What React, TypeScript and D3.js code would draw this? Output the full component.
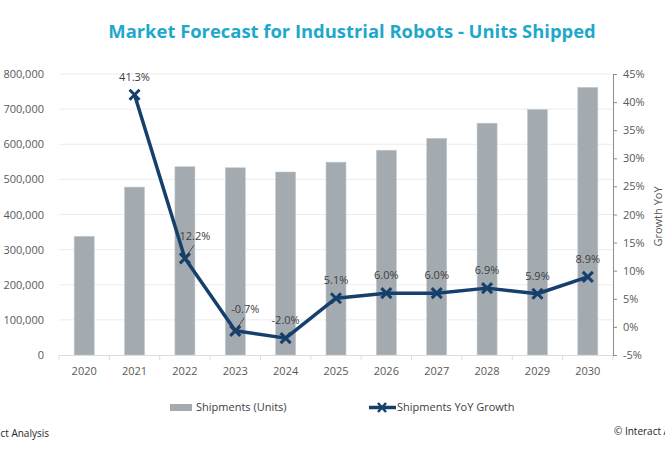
import React, { useEffect, useRef } from "react";
import * as d3 from "d3";

const years = ["2020", "2021", "2022", "2023", "2024", "2025", "2026", "2027", "2028", "2029", "2030"];
const shipments = [338000, 478000, 536000, 533000, 521000, 549000, 583000, 617000, 660000, 699000, 762000];
const growth = [null, 41.3, 12.2, -0.7, -2.0, 5.1, 6.0, 6.0, 6.9, 5.9, 8.9];
const unitTicks = [0, 100000, 200000, 300000, 400000, 500000, 600000, 700000, 800000];
const growthTicks = [-5, 0, 5, 10, 15, 20, 25, 30, 35, 40, 45];
// labels pushed up-right with a small leader line
const leaderYears = ["2022", "2023"];

const W = 665;
const H = 450;
const FONT = "'Open Sans', 'Noto Sans', sans-serif";
const BAR = "#a3abb0";
const LINE = "#173f6c";
const TEXT = "#595959";

const App = () => {
  const svgRef = useRef<SVGSVGElement>(null);

  useEffect(() => {
    const svg = d3.select(svgRef.current);
    svg.selectAll("*").remove();

    const m = { left: 59, right: 613, top: 74, bottom: 355 };

    const x = d3.scaleBand().domain(years).range([m.left, m.right]).paddingInner(0).paddingOuter(0);
    const y = d3.scaleLinear().domain([0, 800000]).range([m.bottom, m.top]);
    const y2 = d3.scaleLinear().domain([-5, 45]).range([m.bottom, m.top]);
    const barW = 20;

    svg.append("rect").attr("width", W).attr("height", H).attr("fill", "#fff");

    // title
    svg.append("text")
      .attr("x", 352).attr("y", 38)
      .attr("text-anchor", "middle")
      .attr("font-family", FONT).attr("font-weight", 700).attr("font-size", 18.4)
      .attr("fill", "#1ea8cb")
      .text("Market Forecast for Industrial Robots - Units Shipped");

    // gridlines
    svg.append("g").selectAll("line")
      .data(unitTicks.filter(d => d > 0))
      .join("line")
      .attr("x1", m.left).attr("x2", m.right)
      .attr("y1", d => y(d)).attr("y2", d => y(d))
      .attr("stroke", "#ececec").attr("stroke-width", 1);

    // left axis labels
    svg.append("g").selectAll("text")
      .data(unitTicks)
      .join("text")
      .attr("x", 44).attr("y", d => y(d) + 4)
      .attr("text-anchor", "end")
      .attr("font-family", FONT).attr("font-size", 11).attr("fill", TEXT)
      .text(d => d3.format(",")(d));

    // bars
    svg.append("g").selectAll("rect")
      .data(shipments)
      .join("rect")
      .attr("x", (_, i) => x(years[i])! + x.bandwidth() / 2 - barW / 2)
      .attr("y", d => y(d))
      .attr("width", barW)
      .attr("height", d => y(0) - y(d))
      .attr("fill", BAR)
      .attr("stroke", "#c4cacd").attr("stroke-width", 0.6);

    // x axis
    const xa = svg.append("g");
    xa.append("line")
      .attr("x1", m.left).attr("x2", m.right)
      .attr("y1", m.bottom + 0.5).attr("y2", m.bottom + 0.5)
      .attr("stroke", "#dcdcdc");
    xa.selectAll("line.tick")
      .data(d3.range(years.length + 1))
      .join("line")
      .attr("class", "tick")
      .attr("x1", i => m.left + i * x.bandwidth()).attr("x2", i => m.left + i * x.bandwidth())
      .attr("y1", m.bottom).attr("y2", m.bottom + 5)
      .attr("stroke", "#dcdcdc");
    xa.selectAll("text")
      .data(years)
      .join("text")
      .attr("x", d => x(d)! + x.bandwidth() / 2)
      .attr("y", 375)
      .attr("text-anchor", "middle")
      .attr("font-family", FONT).attr("font-size", 11).attr("fill", TEXT)
      .text(d => d);

    // right axis
    const ra = svg.append("g");
    ra.append("line")
      .attr("x1", m.right + 0.5).attr("x2", m.right + 0.5)
      .attr("y1", m.top).attr("y2", m.bottom)
      .attr("stroke", "#8c8c8c");
    ra.selectAll("line.tick")
      .data(growthTicks)
      .join("line")
      .attr("class", "tick")
      .attr("x1", m.right).attr("x2", m.right + 4)
      .attr("y1", d => y2(d) + 0.5).attr("y2", d => y2(d) + 0.5)
      .attr("stroke", "#8c8c8c");
    ra.selectAll("text")
      .data(growthTicks)
      .join("text")
      .attr("x", 623).attr("y", d => y2(d) + 4)
      .attr("font-family", FONT).attr("font-size", 11).attr("fill", TEXT)
      .text(d => `${d}%`);
    svg.append("text")
      .attr("transform", `translate(662,${(m.top + m.bottom) / 2 + 2}) rotate(-90)`)
      .attr("text-anchor", "middle")
      .attr("font-family", FONT).attr("font-size", 11).attr("fill", TEXT)
      .text("Growth YoY");

    // growth line
    const pts = years
      .map((yr, i) => ({ yr, v: growth[i] }))
      .filter(d => d.v !== null) as { yr: string; v: number }[];
    const cx = (d: { yr: string }) => x(d.yr)! + x.bandwidth() / 2;

    svg.append("path")
      .datum(pts)
      .attr("fill", "none")
      .attr("stroke", LINE).attr("stroke-width", 3.5)
      .attr("stroke-linejoin", "round")
      .attr("d", d3.line<{ yr: string; v: number }>().x(cx).y(d => y2(d.v)));

    const mk = 5;
    svg.append("g").selectAll("path")
      .data(pts)
      .join("path")
      .attr("d", d => {
        const px = cx(d), py = y2(d.v);
        return `M${px - mk},${py - mk}L${px + mk},${py + mk}M${px - mk},${py + mk}L${px + mk},${py - mk}`;
      })
      .attr("stroke", LINE).attr("stroke-width", 3).attr("fill", "none");

    // data labels
    const lg = svg.append("g");
    pts.forEach(d => {
      const px = cx(d), py = y2(d.v);
      const lead = leaderYears.includes(d.yr);
      const lx = lead ? px + 10 : px;
      const ly = lead ? py - 18 : py - 14;
      if (lead) {
        lg.append("line")
          .attr("x1", px).attr("y1", py)
          .attr("x2", px + 9).attr("y2", py - 13)
          .attr("stroke", "#333").attr("stroke-width", 0.8);
      }
      lg.append("text")
        .attr("x", lx).attr("y", ly)
        .attr("text-anchor", "middle")
        .attr("font-family", FONT).attr("font-size", 11).attr("fill", "#404040")
        .text(`${d.v.toFixed(1)}%`);
    });

    // legend
    const leg = svg.append("g").attr("font-family", FONT).attr("font-size", 11).attr("fill", "#404040");
    leg.append("rect").attr("x", 170).attr("y", 404).attr("width", 22).attr("height", 7).attr("fill", BAR);
    leg.append("text").attr("x", 196).attr("y", 411).text("Shipments (Units)");
    leg.append("line")
      .attr("x1", 369).attr("x2", 396).attr("y1", 407.5).attr("y2", 407.5)
      .attr("stroke", LINE).attr("stroke-width", 3.5);
    leg.append("path")
      .attr("d", "M378,403L386,412M378,412L386,403")
      .attr("stroke", LINE).attr("stroke-width", 2.5);
    leg.append("text").attr("x", 397).attr("y", 411).text("Shipments YoY Growth");

    // footer, running off both edges
    const ft = svg.append("g").attr("font-family", FONT).attr("font-size", 10).attr("fill", "#262626");
    ft.append("text").attr("x", 49).attr("y", 437).attr("text-anchor", "end").text("Source: Interact Analysis");
    ft.append("text").attr("x", 614).attr("y", 435).text("© Interact Analysis");
  }, []);

  return (
    <svg ref={svgRef} width={W} height={H} style={{ position: "absolute", left: 0, top: 0 }} />
  );
};

export default App;
